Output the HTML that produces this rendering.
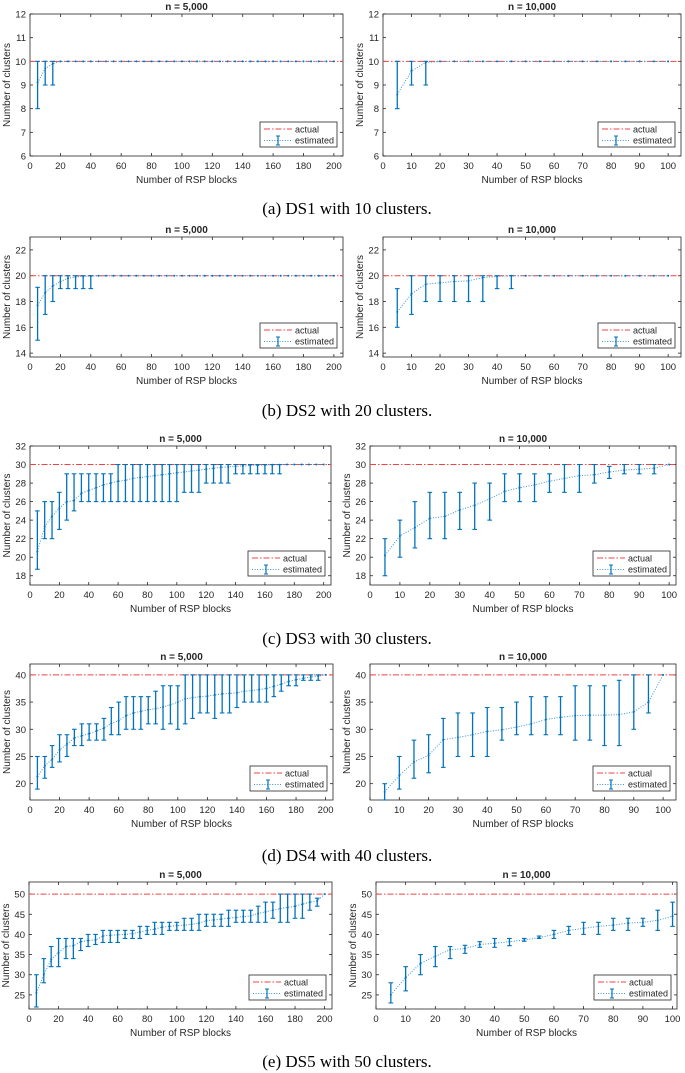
<!DOCTYPE html>
<html><head><meta charset="utf-8">
<style>
html,body{margin:0;padding:0;background:#fff;}
svg{display:block;}
text{font-family:"Liberation Sans",Arial,sans-serif;fill:#262626;}
.cap{font-family:"Liberation Serif","DejaVu Serif",serif;font-size:17px;fill:#000;}
</style></head>
<body>
<svg id="fig" width="685" height="1073" viewBox="0 0 685 1073" xmlns="http://www.w3.org/2000/svg"></svg>
<script>
// ---- categories ----
const xL = [5,10,15,20,25,30,35,40,45,50,55,60,65,70,75,80,85,90,95,100,105,110,115,120,125,130,135,140,145,150,155,160,165,170,175,180,185,190,195,200];
const xR = [5,10,15,20,25,30,35,40,45,50,55,60,65,70,75,80,85,90,95,100];
const xTicksL = [0,20,40,60,80,100,120,140,160,180,200];
const xTicksR = [0,10,20,30,40,50,60,70,80,90,100];
// ---- DS1 ----
const ds1LMean = [9.1,9.7,9.9,10,10,10,10,10,10,10,10,10,10,10,10,10,10,10,10,10,10,10,10,10,10,10,10,10,10,10,10,10,10,10,10,10,10,10,10,10];
const ds1LLow  = [8,9,9,10,10,10,10,10,10,10,10,10,10,10,10,10,10,10,10,10,10,10,10,10,10,10,10,10,10,10,10,10,10,10,10,10,10,10,10,10];
const ds1LHigh = [10,10,10,10,10,10,10,10,10,10,10,10,10,10,10,10,10,10,10,10,10,10,10,10,10,10,10,10,10,10,10,10,10,10,10,10,10,10,10,10];
const ds1RMean = [8.6,9.6,9.95,10,10,10,10,10,10,10,10,10,10,10,10,10,10,10,10,10];
const ds1RLow  = [8,9,9,10,10,10,10,10,10,10,10,10,10,10,10,10,10,10,10,10];
const ds1RHigh = [10,10,10,10,10,10,10,10,10,10,10,10,10,10,10,10,10,10,10,10];
const ds1YTicks = [6,7,8,9,10,11,12];
// ---- DS2 ----
const ds2LMean = [17.7,18.7,19.2,19.55,19.8,19.9,19.95,19.97,20,20,20,20,20,20,20,20,20,20,20,20,20,20,20,20,20,20,20,20,20,20,20,20,20,20,20,20,20,20,20,20];
const ds2LLow  = [15,17,18,19,19,19,19,19,20,20,20,20,20,20,20,20,20,20,20,20,20,20,20,20,20,20,20,20,20,20,20,20,20,20,20,20,20,20,20,20];
const ds2LHigh = [19.1,20,20,20,20,20,20,20,20,20,20,20,20,20,20,20,20,20,20,20,20,20,20,20,20,20,20,20,20,20,20,20,20,20,20,20,20,20,20,20];
const ds2RMean = [17.2,18.6,19.35,19.45,19.55,19.6,19.85,19.95,20,20,20,20,20,20,20,20,20,20,20,20];
const ds2RLow  = [16,17,18,18,18,18,18,19,19,20,20,20,20,20,20,20,20,20,20,20];
const ds2RHigh = [19,20,20,20,20,20,20,20,20,20,20,20,20,20,20,20,20,20,20,20];
const ds2YTicks = [14,16,18,20,22];
// ---- DS3 ----
const ds3LMean = [20.6,23.3,24.4,25.3,26,26.1,26.9,27.2,27.5,27.8,28,28.2,28.3,28.5,28.6,28.7,28.8,28.9,29,29.1,29.2,29.3,29.4,29.5,29.6,29.7,29.75,29.8,29.85,29.9,29.92,29.95,29.97,29.98,30,30,30,30,30,30];
const ds3LLow  = [18.7,22,22,23,24,25,26,26,26,26,26,26,26,26,26,26,26,26,26,26,27,27,27,28,28,28,28,29,29,29,29,29,29,29,30,30,30,30,30,30];
const ds3LHigh = [25,26,26,27,29,29,29,29,29,29,29,30,30,30,30,30,30,30,30,30,30,30,30,30,30,30,30,30,30,30,30,30,30,30,30,30,30,30,30,30];
const ds3RMean = [20.2,22.3,23.2,24.2,24.4,25.1,25.6,26.3,27.1,27.5,27.8,28.2,28.5,28.8,28.9,29.2,29.4,29.5,29.6,30];
const ds3RLow  = [18,20,21,22,22,23,23,24,26,26,26,27,27,27,28,28.5,29,29,29,30];
const ds3RHigh = [22,24,26,27,27,27,28,28,29,29,29,29,30,30,30,29.8,30,30,30,30];
const ds3YTicks = [18,20,22,24,26,28,30,32];
// ---- DS4 ----
const ds4LMean = [21.3,23.3,24.5,26.2,27.3,28.4,28.8,29.2,29.7,30.2,31.1,31.6,32.5,33,33.3,33.6,33.8,34.1,34.5,35,35.6,35.8,36,36.1,36.3,36.5,36.6,36.7,37,37.1,37.3,37.5,37.9,38.3,38.8,39.1,39.4,39.6,39.8,40];
const ds4LLow  = [19,21,23,24,25,27,27,28,28,28,29,29,30,30,30,31,31,30,31,30,31,32,33,33,32,33,33,34,35,35,35,35,36,37,38,38,39,39,39,40];
const ds4LHigh = [25,25,27,29,29,30,31,31,31,32,34,35,36,36,36,36,37,38,38,38,40,40,40,40,40,40,40,40,40,40,40,40,40,40,40,40,40,40,40,40];
const ds4RMean = [18.5,21.5,24,25.2,28.1,28.5,29,29.6,29.9,30.4,31,31.8,32.2,32.5,32.6,32.6,32.7,33.2,35,40];
const ds4RLow  = [17,19,21,22,23,25,25,25,28,29,29,29,29,28,28,27,27,30,33,40];
const ds4RHigh = [20,25,28,29,32,33,33,34,34,35,36,36,36,38,38,38,39,40,40,40];
const ds4YTicks = [20,25,30,35,40];
// ---- DS5 ----
const ds5LMean = [25.5,30,33.8,35.5,37,37.2,38.2,38.5,38.6,39.6,39.8,39.9,40,40.2,40.6,41,41.3,41.8,42,42.2,42.3,42.5,42.8,43.4,43.6,43.8,44,44.2,44.4,44.6,45.2,45.6,46,46.4,46.7,47,47.5,48,48.3,50];
const ds5LLow  = [22,28,32,32,34,34,36,37,37.5,38,38,38,39,39,39,40,40,40,41,41,41,41,41,42,42,42,42,43,43,43,43,43,44,43,43,44,44,46,47,50];
const ds5LHigh = [30,34,37,39,39,39,39,40,40,41,41,41,41,41,42,42,43,43,43,43,44,44,45,45,45,45,46,46,46,46,47,48,48,50,50,50,50,50,49,50];
const ds5RMean = [25,29.3,32.8,34.6,36.2,36.5,37.5,37.8,38.2,38.6,39.2,40,41,41.5,42,42.3,42.8,43,43.5,44.5];
const ds5RLow  = [23,26,30,32,34,35.3,36.8,36.8,37.2,38.3,39,39,40,40,40,41,41,42,41,42];
const ds5RHigh = [28,32,35,37,37,37.3,38.2,39,39,39,39.6,41,42,43,43,44,44,44,46,48];
const ds5YTicks = [25,30,35,40,45,50];

const NS = "http://www.w3.org/2000/svg";
const svg = document.getElementById('fig');
function mk(tag, attrs, parent){
  const e = document.createElementNS(NS, tag);
  for (const k in attrs) e.setAttribute(k, attrs[k]);
  (parent||svg).appendChild(e);
  return e;
}
const BLUE = "#0072BD", RED = "#EE4444";

function panel(cfg){
  const g = mk('g', {});
  
  
  const sx = v => cfg.x0 + (v - cfg.xlim[0]) / (cfg.xlim[1] - cfg.xlim[0]) * (cfg.x1 - cfg.x0);
  const sy = v => cfg.y1 - (v - cfg.ylim[0]) / (cfg.ylim[1] - cfg.ylim[0]) * (cfg.y1 - cfg.y0);
  // title
  const t = mk('text', {x:(cfg.x0+cfg.x1)/2, y:cfg.y0-4, 'text-anchor':'middle', 'font-size':10, 'font-weight':'bold', fill:'#000'}, g);
  t.textContent = cfg.title;
  
  
  // box
  const b = mk('rect', {x:cfg.x0, y:cfg.y0, width:cfg.x1-cfg.x0, height:cfg.y1-cfg.y0, fill:'#fff', stroke:'#262626', 'stroke-width':0.8}, g);
  
  
  // x ticks
  cfg.xticks.forEach(v => {
    const X = sx(v);
    mk('line', {x1:X, x2:X, y1:cfg.y1, y2:cfg.y1-3, stroke:'#262626', 'stroke-width':0.8}, g);
    mk('line', {x1:X, x2:X, y1:cfg.y0, y2:cfg.y0+3, stroke:'#262626', 'stroke-width':0.8}, g);
    const tl = mk('text', {x:X, y:cfg.y1+13, 'text-anchor':'middle', 'font-size':9.5}, g);
    tl.textContent = v;
    
    
  });
  cfg.yticks.forEach(v => {
    const Y = sy(v);
    mk('line', {x1:cfg.x0, x2:cfg.x0+3, y1:Y, y2:Y, stroke:'#262626', 'stroke-width':0.8}, g);
    mk('line', {x1:cfg.x1, x2:cfg.x1-3, y1:Y, y2:Y, stroke:'#262626', 'stroke-width':0.8}, g);
    const tl = mk('text', {x:cfg.x0-4, y:Y+3.5, 'text-anchor':'end', 'font-size':9.5}, g);
    tl.textContent = v;
    
    
  });
  // axis labels
  const xl = mk('text', {x:(cfg.x0+cfg.x1)/2, y:cfg.y1+27, 'text-anchor':'middle', 'font-size':10}, g);
  xl.textContent = 'Number of RSP blocks';
  
  
  const yx = cfg.x0 - 20, ym = (cfg.y0+cfg.y1)/2;
  const yl = mk('text', {x:yx, y:ym, 'text-anchor':'middle', 'font-size':10, transform:`rotate(-90 ${yx} ${ym})`}, g);
  yl.textContent = 'Number of clusters';
  
  
  // actual line
  const al = mk('line', {x1:cfg.x0, x2:cfg.x1, y1:sy(cfg.actual), y2:sy(cfg.actual), stroke:RED, 'stroke-width':1, 'stroke-dasharray':'6,2,1.5,2'}, g);
  
  
  // mean dotted line
  const pts = cfg.xs.map((x,i) => sx(x).toFixed(2)+','+sy(cfg.mean[i]).toFixed(2)).join(' ');
  const ml = mk('polyline', {points:pts, fill:'none', stroke:'#3a94d6', 'stroke-width':1, 'stroke-dasharray':'1,1.6'}, g);
  
  
  // error bars
  cfg.xs.forEach((x,i) => {
    const X = sx(x), lo = sy(cfg.low[i]), hi = sy(cfg.high[i]);
    const eg = mk('g', {}, g);
    
    
    if (cfg.high[i] - cfg.low[i] > 0.001) {
      mk('line', {x1:X, x2:X, y1:lo, y2:hi, stroke:BLUE, 'stroke-width':1.3}, eg);
      mk('line', {x1:X-2.3, x2:X+2.3, y1:lo, y2:lo, stroke:BLUE, 'stroke-width':1.1}, eg);
      mk('line', {x1:X-2.3, x2:X+2.3, y1:hi, y2:hi, stroke:BLUE, 'stroke-width':1.1}, eg);
    }
    mk('circle', {cx:X, cy:sy(cfg.mean[i]), r:1, fill:BLUE}, eg);
  });
  // legend
  const lw = 77, lh = 25, lx = cfg.x1 - lw - 6, ly = cfg.y1 - lh - 9;
  const lg = mk('g', {}, g);
  
  
  mk('rect', {x:lx, y:ly, width:lw, height:lh, fill:'#fff', stroke:'#262626', 'stroke-width':0.8}, lg);
  mk('line', {x1:lx+4, x2:lx+32, y1:ly+7, y2:ly+7, stroke:RED, 'stroke-width':1, 'stroke-dasharray':'6,2,1.5,2'}, lg);
  const la = mk('text', {x:lx+35, y:ly+10.5, 'font-size':9}, lg);
  la.textContent = 'actual';
  
  
  mk('line', {x1:lx+4, x2:lx+32, y1:ly+18.5, y2:ly+18.5, stroke:'#3a94d6', 'stroke-width':1, 'stroke-dasharray':'1,1.6'}, lg);
  mk('line', {x1:lx+18, x2:lx+18, y1:ly+14, y2:ly+23, stroke:BLUE, 'stroke-width':1.2}, lg);
  mk('line', {x1:lx+16, x2:lx+20, y1:ly+14, y2:ly+14, stroke:BLUE, 'stroke-width':1}, lg);
  mk('line', {x1:lx+16, x2:lx+20, y1:ly+23, y2:ly+23, stroke:BLUE, 'stroke-width':1}, lg);
  const le = mk('text', {x:lx+35, y:ly+21.5, 'font-size':9}, lg);
  le.textContent = 'estimated';
  
  
}

function caption(txt, y){
  const c = mk('text', {x:347, y:y, 'text-anchor':'middle', class:'cap'});
  c.textContent = txt;
  
  
}

const rows = [
  {y0:14, y1:156, ylim:[6,12], yt:ds1YTicks, act:10, L:[30,343,206], R:[383,681,104.5], d:[ds1LMean,ds1LLow,ds1LHigh,ds1RMean,ds1RLow,ds1RHigh], cap:'(a) DS1 with 10 clusters.', cy:214},
  {y0:237, y1:357, ylim:[13.7,23], yt:ds2YTicks, act:20, L:[30,343,206], R:[383,681,104.5], d:[ds2LMean,ds2LLow,ds2LHigh,ds2RMean,ds2RLow,ds2RHigh], cap:'(b) DS2 with 20 clusters.', cy:416},
  {y0:446, y1:585, ylim:[17,32], yt:ds3YTicks, act:30, L:[30,331,205], R:[370,676,102.3], d:[ds3LMean,ds3LLow,ds3LHigh,ds3RMean,ds3RLow,ds3RHigh], cap:'(c) DS3 with 30 clusters.', cy:644},
  {y0:664, y1:800, ylim:[17,42], yt:ds4YTicks, act:40, L:[30,333,205], R:[370,676,104.4], d:[ds4LMean,ds4LLow,ds4LHigh,ds4RMean,ds4RLow,ds4RHigh], cap:'(d) DS4 with 40 clusters.', cy:861},
  {y0:882, y1:1009, ylim:[21.5,53], yt:ds5YTicks, act:50, L:[29,332,205], R:[376,677,101.5], d:[ds5LMean,ds5LLow,ds5LHigh,ds5RMean,ds5RLow,ds5RHigh], cap:'(e) DS5 with 50 clusters.', cy:1067}
];
rows.forEach((r,k) => {
  panel({name:'panel-'+(k+1)+'-n5000', title:'n = 5,000', x0:r.L[0], x1:r.L[1], xlim:[0,r.L[2]], y0:r.y0, y1:r.y1, ylim:r.ylim, xticks:xTicksL, yticks:r.yt, actual:r.act, xs:xL, mean:r.d[0], low:r.d[1], high:r.d[2]});
  panel({name:'panel-'+(k+1)+'-n10000', title:'n = 10,000', x0:r.R[0], x1:r.R[1], xlim:[0,r.R[2]], y0:r.y0, y1:r.y1, ylim:r.ylim, xticks:xTicksR, yticks:r.yt, actual:r.act, xs:xR, mean:r.d[3], low:r.d[4], high:r.d[5]});
  caption(r.cap, r.cy);
});
</script>
</body></html>
